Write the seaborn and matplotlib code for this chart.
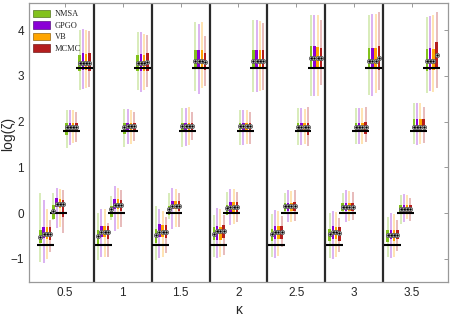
import numpy as np
import pandas as pd
import matplotlib.pyplot as plt
import seaborn as sns
from matplotlib.patches import Patch


kappa = [0.5, 1, 1.5, 2, 2.5, 3, 3.5]
kappa_labels = ['0.5', '1', '1.5', '2', '2.5', '3', '3.5']
methods = ['NMSA', 'GPGO', 'VB', 'MCMC']
colors = ['#82c21c', '#8a00d6', '#ffa500', '#b41e1e']
true_vals = [-0.69, 0.0, 1.79, 3.18]

# five-number summaries, rows = kappa, columns = NMSA, GPGO, VB, MCMC
# level 1 (true value log 0.5)
g1_lo = [[-1.07, -1.10, -1.00, -0.85], [-1.03, -0.96, -0.96, -0.96], [-1.03, -0.99, -0.95, -0.88],
         [-0.96, -0.99, -0.95, -0.91], [-0.96, -0.99, -0.94, -0.75], [-0.98, -1.00, -0.95, -0.85],
         [-0.96, -0.99, -0.95, -0.82]]
g1_q1 = [[-0.66, -0.55, -0.57, -0.58], [-0.70, -0.53, -0.53, -0.57], [-0.66, -0.53, -0.53, -0.55],
         [-0.59, -0.58, -0.58, -0.55], [-0.61, -0.57, -0.57, -0.57], [-0.62, -0.57, -0.57, -0.60],
         [-0.63, -0.57, -0.60, -0.57]]
g1_med = [[-0.52, -0.45, -0.45, -0.45], [-0.50, -0.41, -0.41, -0.41], [-0.48, -0.41, -0.41, -0.41],
          [-0.45, -0.39, -0.39, -0.39], [-0.45, -0.41, -0.41, -0.41], [-0.46, -0.42, -0.42, -0.44],
          [-0.48, -0.48, -0.48, -0.48]]
g1_q3 = [[-0.37, -0.30, -0.30, -0.30], [-0.37, -0.29, -0.29, -0.29], [-0.35, -0.24, -0.25, -0.25],
         [-0.30, -0.28, -0.30, -0.27], [-0.35, -0.28, -0.28, -0.28], [-0.35, -0.28, -0.30, -0.30],
         [-0.36, -0.36, -0.37, -0.38]]
g1_hi = [[0.45, 0.28, 0.10, -0.15], [0.00, 0.10, 0.08, -0.22], [0.15, 0.10, 0.05, -0.08],
         [-0.04, 0.11, 0.08, -0.04], [-0.02, 0.07, 0.05, -0.07], [0.00, 0.05, 0.02, -0.10],
         [-0.08, 0.00, -0.02, -0.15]]

# level 2 (true value 0)
g2_lo = [[-0.15, -0.33, -0.30, -0.44], [-0.15, -0.40, -0.35, -0.30], [-0.12, -0.35, -0.30, -0.30],
         [-0.04, -0.26, -0.24, -0.20], [0.02, -0.19, -0.19, -0.17], [0.00, -0.20, -0.18, -0.15],
         [-0.24, -0.20, -0.12, -0.18]]
g2_q1 = [[-0.13, 0.13, 0.12, -0.09], [-0.08, 0.10, 0.10, 0.05], [-0.05, 0.08, 0.08, 0.05],
         [-0.04, 0.03, 0.03, 0.03], [0.05, 0.05, 0.05, 0.05], [0.05, 0.05, 0.05, 0.05],
         [0.00, 0.00, 0.00, 0.00]]
g2_med = [[0.05, 0.20, 0.20, 0.19], [0.08, 0.18, 0.18, 0.18], [0.10, 0.16, 0.16, 0.16],
          [0.12, 0.13, 0.13, 0.13], [0.15, 0.15, 0.15, 0.15], [0.14, 0.14, 0.14, 0.14],
          [0.10, 0.10, 0.10, 0.10]]
g2_q3 = [[0.17, 0.33, 0.30, 0.29], [0.15, 0.30, 0.30, 0.28], [0.15, 0.27, 0.27, 0.27],
         [0.18, 0.25, 0.25, 0.25], [0.23, 0.23, 0.23, 0.25], [0.23, 0.23, 0.23, 0.23],
         [0.17, 0.17, 0.17, 0.17]]
g2_hi = [[0.44, 0.55, 0.53, 0.50], [0.37, 0.60, 0.55, 0.50], [0.45, 0.55, 0.53, 0.45],
         [0.47, 0.53, 0.53, 0.47], [0.44, 0.51, 0.48, 0.51], [0.45, 0.50, 0.48, 0.47],
         [0.39, 0.41, 0.39, 0.32]]

# level 3 (true value log 6)
g3_lo = [[1.42, 1.49, 1.53, 1.56], [1.45, 1.50, 1.52, 1.58], [1.45, 1.46, 1.48, 1.60],
         [1.48, 1.48, 1.50, 1.52], [1.49, 1.49, 1.50, 1.47], [1.51, 1.51, 1.52, 1.55],
         [1.51, 1.49, 1.51, 1.53]]
g3_q1 = [[1.71, 1.80, 1.80, 1.80], [1.74, 1.80, 1.80, 1.80], [1.78, 1.80, 1.80, 1.80],
         [1.80, 1.80, 1.80, 1.80], [1.80, 1.80, 1.80, 1.71], [1.80, 1.80, 1.80, 1.72],
         [1.85, 1.85, 1.85, 1.85]]
g3_med = [[1.89, 1.89, 1.89, 1.89], [1.89, 1.90, 1.90, 1.90], [1.91, 1.91, 1.91, 1.91],
          [1.91, 1.91, 1.91, 1.91], [1.88, 1.88, 1.88, 1.88], [1.89, 1.89, 1.89, 1.89],
          [1.89, 1.89, 1.89, 1.89]]
g3_q3 = [[1.98, 1.97, 1.97, 1.97], [1.98, 1.98, 1.98, 1.98], [1.98, 1.98, 1.98, 1.98],
         [1.98, 1.98, 1.98, 1.98], [1.98, 1.98, 1.98, 1.98], [1.98, 1.98, 1.98, 1.99],
         [2.06, 2.06, 2.06, 2.06]]
g3_hi = [[2.26, 2.26, 2.25, 2.20], [2.28, 2.27, 2.25, 2.20], [2.30, 2.30, 2.31, 2.20],
         [2.26, 2.26, 2.26, 2.21], [2.30, 2.30, 2.28, 2.33], [2.30, 2.30, 2.30, 2.33],
         [2.41, 2.41, 2.40, 2.33]]

# level 4 (true value log 24)
g4_lo = [[2.69, 2.71, 2.73, 2.76], [2.70, 2.65, 2.70, 2.75], [2.68, 2.61, 2.74, 2.78],
         [2.64, 2.64, 2.67, 2.70], [2.57, 2.57, 2.57, 2.81], [2.58, 2.55, 2.62, 2.70],
         [2.62, 2.66, 2.64, 2.74]]
g4_q1 = [[3.11, 3.12, 3.12, 3.11], [3.11, 3.11, 3.11, 3.11], [3.17, 3.17, 3.17, 3.12],
         [3.14, 3.14, 3.14, 3.14], [3.14, 3.14, 3.14, 3.14], [3.14, 3.14, 3.14, 3.12],
         [3.11, 3.12, 3.12, 3.17]]
g4_med = [[3.29, 3.28, 3.28, 3.28], [3.28, 3.28, 3.28, 3.30], [3.32, 3.32, 3.32, 3.30],
          [3.32, 3.32, 3.32, 3.32], [3.38, 3.38, 3.38, 3.38], [3.33, 3.33, 3.33, 3.38],
          [3.33, 3.33, 3.33, 3.45]]
g4_q3 = [[3.46, 3.50, 3.48, 3.50], [3.46, 3.47, 3.46, 3.50], [3.57, 3.57, 3.57, 3.49],
         [3.57, 3.57, 3.57, 3.57], [3.65, 3.65, 3.63, 3.62], [3.62, 3.62, 3.62, 3.65],
         [3.59, 3.60, 3.59, 3.73]]
g4_hi = [[4.00, 4.03, 4.00, 3.99], [3.95, 3.95, 3.92, 3.90], [4.17, 4.14, 4.17, 3.87],
         [4.22, 4.22, 4.20, 4.16], [4.34, 4.34, 4.32, 4.22], [4.34, 4.36, 4.36, 4.39],
         [4.29, 4.31, 4.32, 4.39]]

levels = [
    (g1_lo, g1_q1, g1_med, g1_q3, g1_hi),
    (g2_lo, g2_q1, g2_med, g2_q3, g2_hi),
    (g3_lo, g3_q1, g3_med, g3_q3, g3_hi),
    (g4_lo, g4_q1, g4_med, g4_q3, g4_hi),
]
offsets = [-0.17, -0.057, 0.057, 0.17]

rows = []
for j, stats in enumerate(levels):
    for i, k in enumerate(kappa):
        for m, name in enumerate(methods):
            for s in stats:
                rows.append({'x': round(k + offsets[j], 3), 'method': name, 'val': s[i][m]})
df = pd.DataFrame(rows)

sns.set_style('white')
plt.rcParams['font.family'] = ['Liberation Sans', 'DejaVu Sans']

fig = plt.figure(figsize=(4.51, 3.16), dpi=100)
ax = fig.add_axes([0.0643, 0.1085, 0.929, 0.883])

sns.boxplot(data=df, x='x', y='val', hue='method', hue_order=methods, palette=colors,
            native_scale=True, orient='x', width=1.0, gap=0.22, whis=(0, 100),
            saturation=1, showfliers=False, legend=False, ax=ax)

med_x, med_y = [], []
for c, col in zip(ax.containers, colors):
    for b in c.boxes:
        b.set_facecolor(col)
        b.set_edgecolor(col)
        b.set_linewidth(0)
        b.set_zorder(3)
    for w in c.whiskers:
        w.set_color(col)
        w.set_alpha(0.33)
        w.set_linewidth(1.3)
        w.set_solid_capstyle('butt')
    for cap in c.caps:
        cap.set_visible(False)
    for med in c.medians:
        med.set_visible(False)
        med_x.append(np.mean(med.get_xdata()))
        med_y.append(med.get_ydata()[0])

# true values
for j, tv in enumerate(true_vals):
    xs = np.array(kappa) + offsets[j]
    ax.hlines([tv] * len(xs), xs - 0.073, xs + 0.073, color='black', lw=1.5, zorder=4)

# median markers
ax.scatter(med_x, med_y, s=9, facecolor='white', edgecolor='#555555', linewidth=0.6, zorder=5)
ax.scatter(med_x, med_y, s=0.6, color='black', zorder=6)

# panel separators
for a, b in zip(kappa[:-1], kappa[1:]):
    ax.axvline((a + b) / 2, color='#2a2a2a', lw=1.6, zorder=2)

ax.set_xlim(0.19, 3.81)
ax.set_ylim(-1.5, 4.6)
ax.set_xticks(kappa)
ax.set_xticklabels(kappa_labels)
ax.set_yticks([-1, 0, 1, 2, 3, 4])
ax.tick_params(direction='in', top=True, right=True, length=3, width=0.7,
               color='#999999', labelsize=8.5, pad=3.5)
for sp in ax.spines.values():
    sp.set_color('#999999')
    sp.set_linewidth(0.9)

ax.set_xlabel('κ', fontsize=10, labelpad=3)
ax.set_ylabel('log(ζ)', fontsize=10)
ax.yaxis.set_label_coords(-0.032, 0.53)

handles = [Patch(facecolor=col, edgecolor=sns.dark_palette(col, 3)[1], linewidth=0.5, label=name)
           for col, name in zip(colors, methods)]
ax.legend(handles=handles, loc='upper left', bbox_to_anchor=(0.01, 0.975), frameon=False,
          prop={'family': 'Liberation Serif', 'size': 6}, handlelength=2.0, handleheight=1.0,
          handletextpad=0.6, labelspacing=0.35, borderpad=0, borderaxespad=0)

plt.savefig('out.png', dpi=100)
